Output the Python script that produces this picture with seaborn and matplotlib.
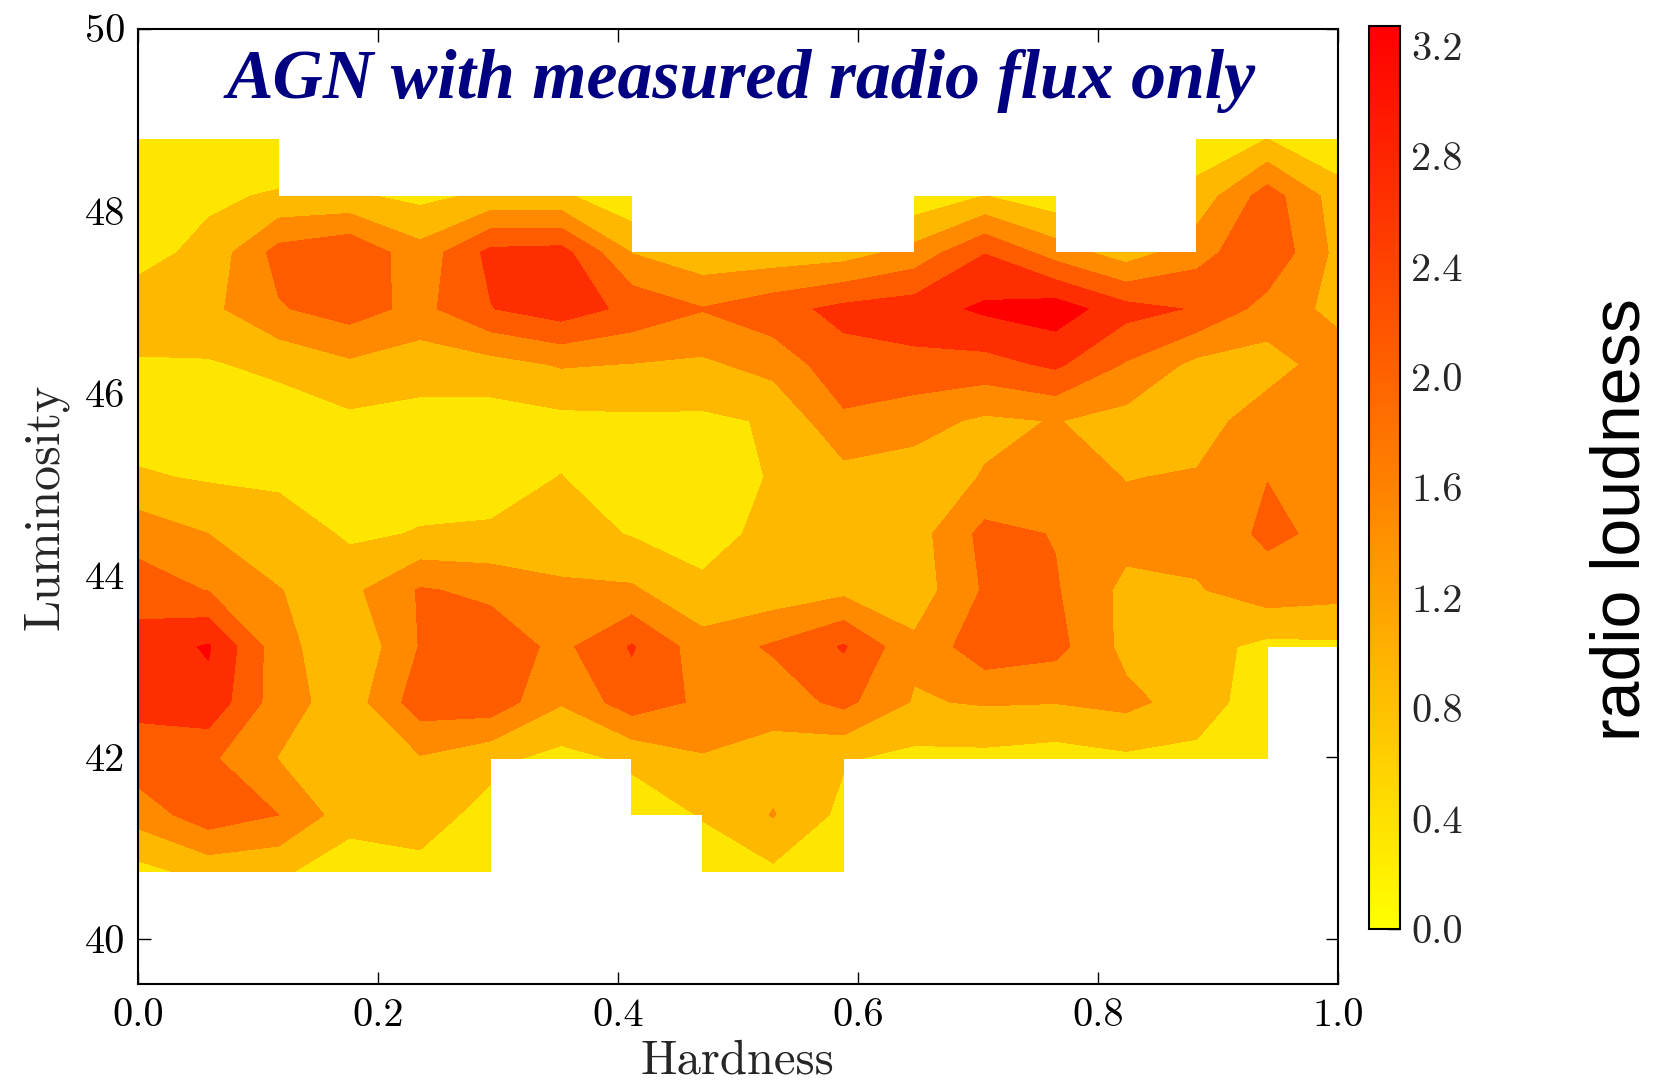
import numpy as np
import matplotlib
matplotlib.use("Agg")
import matplotlib.pyplot as plt
import matplotlib.font_manager as fm
import seaborn as sns
from matplotlib.colors import Normalize
from matplotlib.cm import ScalarMappable

N = np.nan

# grid of the binned map
hardness = [0.0, 0.0588, 0.1176, 0.1765, 0.2353, 0.2941, 0.3529, 0.4118, 0.4706,
            0.5294, 0.5882, 0.6471, 0.7059, 0.7647, 0.8235, 0.8824, 0.9412, 1.0]
luminosity = [40.74, 41.36, 41.98, 42.60, 43.21, 43.83, 44.45, 45.07, 45.69,
              46.31, 46.92, 47.54, 48.16, 48.78]

# radio loudness, one list per luminosity row (bottom to top), NaN = no sources
rl_4074 = [0.37, 0.74, 0.65, 0.20, 0.42, 0.30, N, N, 0.30, 0.45, 0.30, N, N, N, N, N, N, N]
rl_4136 = [1.33, 1.96, 1.65, 0.79, 0.76, 0.38, N, 0.28, 0.58, 1.13, 0.40, N, N, N, N, N, N, N]
rl_4198 = [1.97, 1.75, 1.08, 0.80, 1.05, 0.69, 0.37, 0.65, 1.05, 0.85, 0.60, 0.40, 0.40, 0.30, 0.45, 0.40, 0.30, N]
rl_4260 = [2.33, 2.60, 1.35, 0.80, 1.95, 2.00, 1.15, 1.96, 1.55, 1.35, 1.80, 1.05, 1.15, 1.12, 1.25, 0.84, 0.20, N]
rl_4321 = [2.47, 2.80, 1.33, 0.60, 1.68, 1.96, 1.51, 2.25, 1.35, 1.72, 2.25, 1.22, 2.00, 1.83, 0.94, 0.75, 0.40, 0.45]
rl_4383 = [1.90, 1.63, 1.11, 0.95, 1.70, 1.53, 1.19, 1.18, 0.62, 0.75, 0.95, 0.79, 1.72, 1.70, 0.95, 1.05, 1.42, 1.30]
rl_4445 = [1.45, 1.10, 0.94, 0.45, 0.58, 0.60, 0.80, 0.51, 0.42, 0.65, 0.85, 0.85, 1.82, 1.62, 1.30, 1.30, 1.75, 1.52]
rl_4507 = [0.62, 0.49, 0.40, 0.25, 0.35, 0.40, 0.56, 0.30, 0.35, 0.58, 0.90, 0.85, 1.13, 1.40, 1.08, 1.15, 1.64, 1.45]
rl_4569 = [0.25, 0.30, 0.28, 0.43, 0.37, 0.30, 0.40, 0.45, 0.45, 0.60, 1.55, 1.30, 1.00, 1.12, 0.90, 0.85, 1.40, 1.50]
rl_4631 = [0.50, 0.50, 0.67, 1.00, 0.79, 0.89, 1.15, 1.08, 1.00, 1.30, 2.00, 2.05, 2.00, 2.30, 1.60, 0.95, 0.85, 1.40]
rl_4692 = [0.83, 0.95, 1.60, 1.90, 1.48, 2.18, 2.50, 2.05, 1.68, 2.00, 2.35, 2.50, 2.85, 3.05, 2.40, 2.15, 1.44, 0.93]
rl_4754 = [0.35, 0.71, 1.85, 2.13, 1.30, 2.35, 2.41, 1.08, 0.70, 0.75, 0.85, 1.30, 2.18, 1.40, 0.81, 1.44, 2.10, 0.94]
rl_4816 = [0.30, 0.45, 0.62, 0.64, 0.40, 0.67, 0.65, 0.10, N, N, N, 0.15, 0.56, 0.19, N, 0.74, 1.92, 0.83]
rl_4878 = [0.20, 0.20, 0.05, N, N, N, N, N, N, N, N, N, N, N, N, 0.20, 0.56, 0.05]

levels = [0.0, 0.55, 1.1, 1.65, 2.2, 2.75, 3.3]
cbar_ticks = [0.0, 0.4, 0.8, 1.2, 1.6, 2.0, 2.4, 2.8, 3.2]
x_ticks = [0.0, 0.2, 0.4, 0.6, 0.8, 1.0]
y_ticks = [40, 42, 44, 46, 48, 50]
title = "AGN with measured radio flux only"

sns.set_style("ticks")
plt.rcParams["font.family"] = ["cmr10", "DejaVu Serif"]
plt.rcParams["mathtext.fontset"] = "cm"
plt.rcParams["axes.formatter.use_mathtext"] = True
plt.rcParams["axes.unicode_minus"] = False

cmap = sns.color_palette("autumn_r", as_cmap=True)

Z = np.ma.masked_invalid(np.array([rl_4074, rl_4136, rl_4198, rl_4260, rl_4321, rl_4383, rl_4445,
                                   rl_4507, rl_4569, rl_4631, rl_4692, rl_4754, rl_4816, rl_4878]))

fig = plt.figure(figsize=(16.61, 10.86), dpi=100)
ax = fig.add_axes([0.0829, 0.0937, 0.7226, 0.8800])
ax.contourf(hardness, luminosity, Z, levels=levels, cmap=cmap,
            norm=Normalize(vmin=-0.03, vmax=3.03), corner_mask=False)

ax.set_xlim(0, 1)
ax.set_ylim(39.5, 50)
ax.set_xticks(x_ticks)
ax.set_xticklabels(["%.1f" % t for t in x_ticks])
ax.set_yticks(y_ticks)
ax.set_yticklabels(["%d" % t for t in y_ticks])
ax.tick_params(direction="in", length=9, width=1.0, labelsize=29, top=True, right=True,
               color="black", labelcolor="black")
ax.tick_params(axis="x", pad=10)
ax.tick_params(axis="y", pad=9)
for s in ax.spines.values():
    s.set_color("black")
    s.set_linewidth(1.5)
ax.set_xlabel("Hardness", fontsize=35, labelpad=4)
ax.set_ylabel("Luminosity", fontsize=36, labelpad=12)

# in-plot title, sized so its width matches the original (~1028 px)
ttl = ax.text(0.503, 49.24, title, ha="center", va="baseline",
              family="Liberation Serif", fontweight="bold", fontstyle="italic",
              fontsize=48, color="#000080")
fig.canvas.draw()
w = ttl.get_window_extent().width
ttl.set_fontsize(48 * 1028.0 / w)

cax = fig.add_axes([0.824, 0.1444, 0.019, 0.8312])
sm = ScalarMappable(norm=Normalize(vmin=0.0, vmax=3.27), cmap=cmap)
cb = fig.colorbar(sm, cax=cax, ticks=cbar_ticks)
cb.ax.set_yticklabels(["%.1f" % t for t in cbar_ticks])
cb.ax.tick_params(direction="in", length=9, width=1.0, labelsize=29, pad=8, color="black")
cb.outline.set_edgecolor("black")
cb.outline.set_linewidth(1.5)

fig.text(0.976, 0.522, "radio loudness", rotation=90, ha="center", va="center",
         fontsize=49, family="Liberation Sans", color="black")

fig.savefig("out.png", dpi=100, facecolor="white")
